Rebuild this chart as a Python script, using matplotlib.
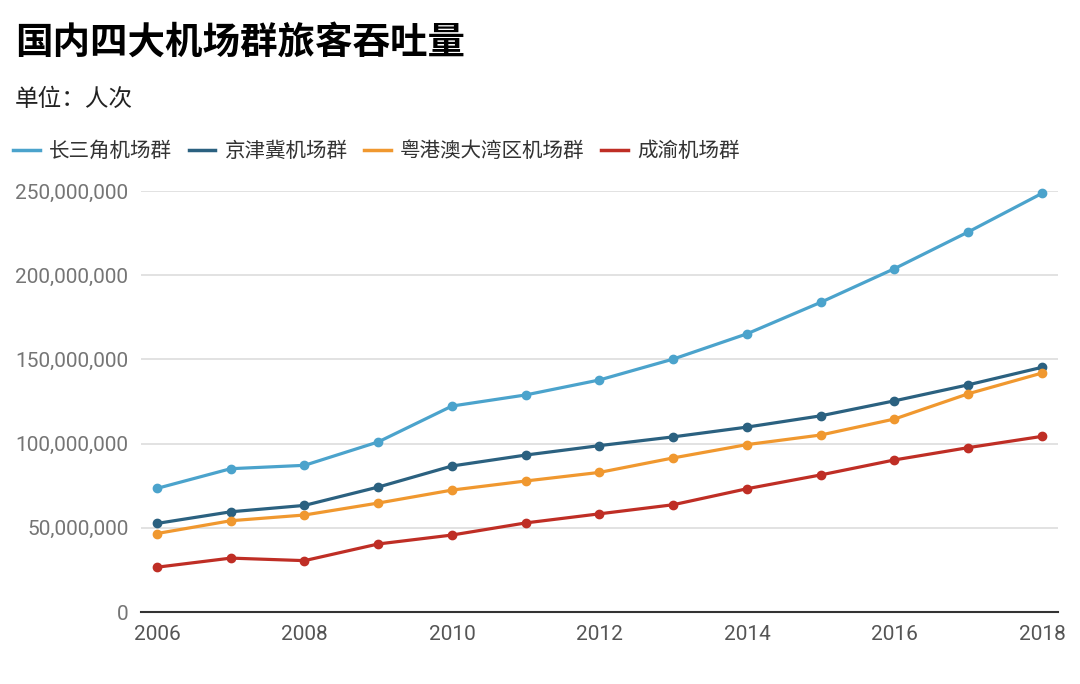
import matplotlib
matplotlib.use("Agg")
import matplotlib.pyplot as plt
from matplotlib.ticker import FuncFormatter
from matplotlib.lines import Line2D

years = list(range(2006, 2019))
series_names = ["长三角机场群", "京津冀机场群", "粤港澳大湾区机场群", "成渝机场群"]
yrd = [73.4, 85.1, 87.1, 101.0, 122.3, 128.9, 137.8, 150.2, 165.2, 183.9, 203.9, 225.7, 248.6]
bth = [52.6, 59.5, 63.3, 74.2, 86.7, 93.2, 98.8, 104.0, 109.8, 116.5, 125.4, 134.9, 145.3]
gba = [46.6, 54.2, 57.6, 64.7, 72.4, 77.8, 82.9, 91.5, 99.4, 105.1, 114.6, 129.6, 141.9]
cy = [26.6, 32.0, 30.5, 40.4, 45.7, 52.9, 58.3, 63.7, 73.2, 81.4, 90.3, 97.6, 104.3]
colors = ["#4BA3CC", "#2B6180", "#F0982F", "#BF2E25"]
yticks = [0, 50e6, 100e6, 150e6, 200e6, 250e6]
xticks = [2006, 2008, 2010, 2012, 2014, 2016, 2018]

cjk = ["Noto Sans CJK SC", "DejaVu Sans"]
num = ["Roboto", "DejaVu Sans"]

fig = plt.figure(figsize=(10.8, 6.84), dpi=100)
ax = fig.add_axes([141/1080, 1-612/684, (1058-141)/1080, (612-191)/684])

for vals, c, name in zip([yrd, bth, gba, cy], colors, series_names):
    ax.plot(years, [v*1e6 for v in vals], color=c, lw=2.3, marker="o", ms=6,
            label=name, clip_on=False, zorder=3, solid_capstyle="round")

ax.set_ylim(0, 250e6)
ax.set_xlim(2006 - 16/73.75, 2018 + 16/73.75)
ax.set_yticks(yticks)
ax.set_xticks(xticks)
ax.yaxis.set_major_formatter(FuncFormatter(lambda v, p: f"{int(v):,}"))
ax.grid(axis="y", color="#dddddd", lw=1.2, zorder=0)
for s in ["top", "right", "left"]:
    ax.spines[s].set_visible(False)
ax.spines["bottom"].set_color("#333333")
ax.spines["bottom"].set_linewidth(1.5)
ax.tick_params(axis="both", length=0)
ax.tick_params(axis="y", pad=9, labelcolor="#757575")
ax.tick_params(axis="x", pad=9, labelcolor="#555555")
for lbl in ax.get_yticklabels() + ax.get_xticklabels():
    lbl.set_fontfamily(num)
    lbl.set_fontsize(15)

fig.text(15/1080, 1-42/684, "国内四大机场群旅客吞吐量", family=cjk, fontsize=27,
         fontweight="bold", va="center", ha="left", color="#000000")
fig.text(15/1080, 1-99/684, "单位：人次", family=cjk, fontsize=17,
         va="center", ha="left", color="#222222")

handles = [Line2D([0], [0], color=c, lw=2.5) for c in colors]
leg = fig.legend(handles, series_names, loc="center left",
                 bbox_to_anchor=(5/1080, 1-151/684), ncol=4, frameon=False,
                 handlelength=1.3, handletextpad=0.45, columnspacing=0.8,
                 prop={"family": cjk, "size": 14.8}, borderaxespad=0)
for t in leg.get_texts():
    t.set_color("#333333")

fig.savefig("out.png", dpi=100, facecolor="white")
